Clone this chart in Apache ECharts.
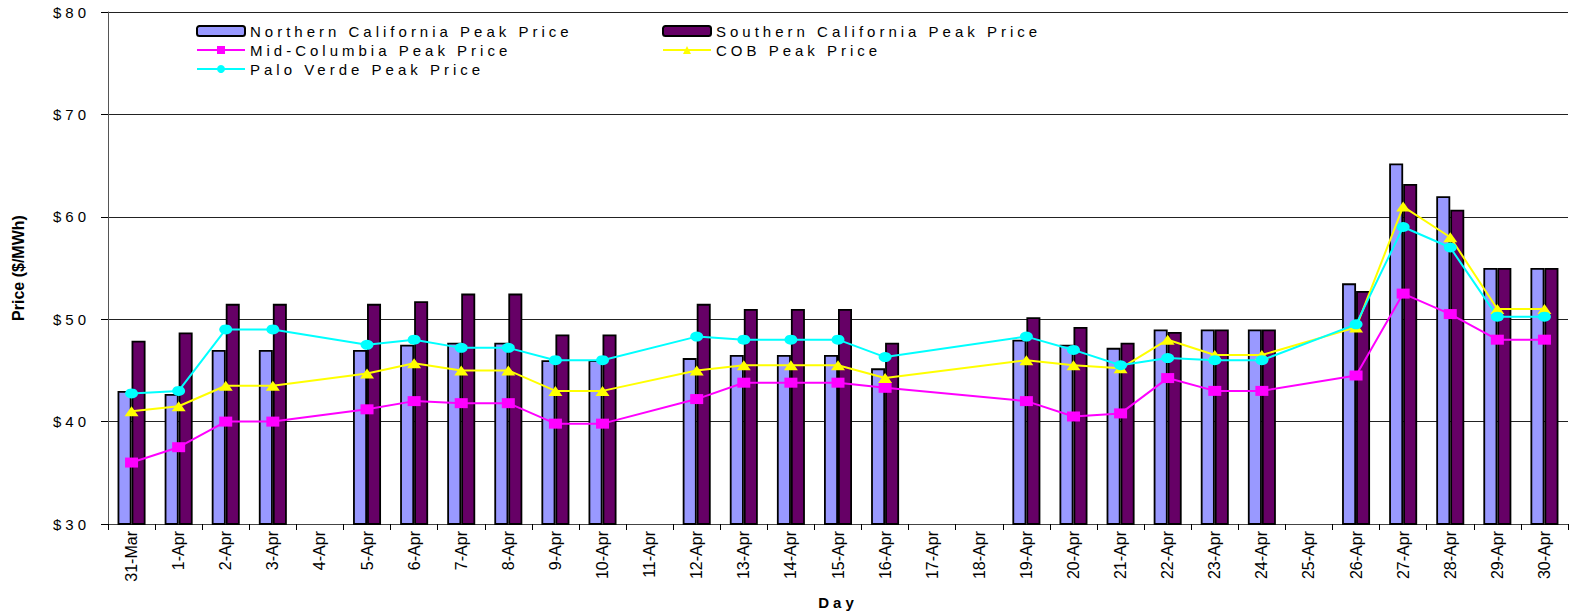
<!DOCTYPE html>
<html>
<head>
<meta charset="utf-8">
<script src="https://cdn.jsdelivr.net/npm/echarts@6/dist/echarts.min.js"></script>
<style>
html,body{margin:0;padding:0;background:#fff;}
#chart{width:1571px;height:615px;}
</style>
</head>
<body>
<div id="chart"></div>
<script>
const days = ['31-Mar','1-Apr','2-Apr','3-Apr','4-Apr','5-Apr','6-Apr','7-Apr','8-Apr','9-Apr','10-Apr','11-Apr','12-Apr','13-Apr','14-Apr','15-Apr','16-Apr','17-Apr','18-Apr','19-Apr','20-Apr','21-Apr','22-Apr','23-Apr','24-Apr','25-Apr','26-Apr','27-Apr','28-Apr','29-Apr','30-Apr'];
const northernCA = [43.0,42.7,47.0,47.0,null,47.0,47.5,47.7,47.7,46.0,46.0,null,46.2,46.5,46.5,46.5,45.2,null,null,48.0,47.5,47.2,49.0,49.0,49.0,null,53.5,65.2,62.0,55.0,55.0];
const southernCA = [47.9,48.7,51.5,51.5,null,51.5,51.75,52.5,52.5,48.5,48.5,null,51.5,51.0,51.0,51.0,47.7,null,null,50.2,49.25,47.7,48.75,49.0,49.0,null,52.75,63.2,60.7,55.0,55.0];
const midColumbia = [36.0,37.5,40.0,40.0,null,41.2,42.0,41.8,41.8,39.8,39.8,null,42.2,43.8,43.8,43.8,43.3,null,null,42.0,40.5,40.8,44.25,43.0,43.0,null,44.5,52.5,50.5,48.0,48.0];
const cob = [41.0,41.5,43.5,43.5,null,44.7,45.7,45.0,45.0,43.0,43.0,null,45.0,45.5,45.5,45.5,44.25,null,null,46.0,45.5,45.2,48.0,46.5,46.5,null,49.2,61.0,58.0,51.0,51.0];
const paloVerde = [42.75,43.0,49.0,49.0,null,47.5,48.0,47.2,47.2,46.0,46.0,null,48.3,48.0,48.0,48.0,46.3,null,null,48.3,47.0,45.5,46.2,46.0,46.0,null,49.5,59.0,57.0,50.25,50.25];
const yTicks = ['$30','$40','$50','$60','$70','$80'];
const seriesNames = ['Northern California Peak Price','Southern California Peak Price','Mid-Columbia Peak Price','COB Peak Price','Palo Verde Peak Price'];

const FONT = 'Liberation Sans, Arial, sans-serif';
const chart = echarts.init(document.getElementById('chart'), null, {renderer:'svg'});

function legendAt(name, left, top){
  return {
    data:[name], left:left, top:top, padding:0, orient:'horizontal',
    itemWidth:48, itemHeight:10, selectedMode:false,
    textStyle:{fontFamily:FONT, fontSize:15, color:'#000', lineHeight:18}
  };
}

const option = {
  animation:false,
  backgroundColor:'#fff',
  grid:{left:108, right:3, top:12, bottom:89, containLabel:false},
  legend:[
    legendAt(seriesNames[0],196,22),
    legendAt(seriesNames[1],662,22),
    legendAt(seriesNames[2],196,41),
    legendAt(seriesNames[3],662,41),
    legendAt(seriesNames[4],196,60)
  ],
  xAxis:{
    type:'category', data:days, boundaryGap:true,
    name:'Day', nameLocation:'middle', nameGap:71,
    nameTextStyle:{fontFamily:FONT, fontSize:15, fontWeight:'bold', color:'#000'},
    axisLine:{lineStyle:{color:'#444', width:1}},
    axisTick:{show:true, interval:0, length:6, lineStyle:{color:'#000'}},
    axisLabel:{interval:0, rotate:90, margin:7, fontFamily:FONT, fontSize:16, color:'#000'}
  },
  yAxis:{
    type:'value', min:30, max:80, interval:10,
    name:'Price ($/MWh)', nameLocation:'middle', nameGap:82, nameRotate:90,
    nameTextStyle:{fontFamily:FONT, fontSize:16, fontWeight:'bold', color:'#000'},
    axisLine:{show:true, lineStyle:{color:'#555', width:1}},
    axisTick:{show:true, length:7, lineStyle:{color:'#000'}},
    splitLine:{show:true, lineStyle:{color:'#222', width:1}},
    axisLabel:{margin:18, fontFamily:FONT, fontSize:15, color:'#000',
      formatter:function(v){ return yTicks[Math.round((v-30)/10)]; }}
  },
  series:[
    {name:seriesNames[0], type:'bar', data:northernCA, barWidth:14, barGap:'0%',
      itemStyle:{color:'#9999FF', borderColor:'#000', borderWidth:1.8}},
    {name:seriesNames[1], type:'bar', data:southernCA, barWidth:14, barGap:'0%',
      itemStyle:{color:'#660066', borderColor:'#000', borderWidth:1.8}},
    {name:seriesNames[2], type:'line', data:midColumbia, connectNulls:true,
      symbol:'rect', symbolSize:[13,10], lineStyle:{color:'#FF00FF', width:2},
      itemStyle:{color:'#FF00FF'}},
    {name:seriesNames[3], type:'line', data:cob, connectNulls:true,
      symbol:'triangle', symbolSize:[14,10], lineStyle:{color:'#FFFF00', width:2},
      itemStyle:{color:'#FFFF00'}},
    {name:seriesNames[4], type:'line', data:paloVerde, connectNulls:true,
      symbol:'circle', symbolSize:[13,10], lineStyle:{color:'#00FFFF', width:2},
      itemStyle:{color:'#00FFFF'}}
  ]
};
chart.setOption(option);

const spaced = new Set(seriesNames.concat(yTicks).concat(['Day']));
function applySpacing(){
  chart.getDom().querySelectorAll('text').forEach(function(t){
    if (spaced.has(t.textContent.trim())) t.setAttribute('letter-spacing','4');
  });
}
chart.on('finished', applySpacing);
applySpacing();
</script>
</body>
</html>
